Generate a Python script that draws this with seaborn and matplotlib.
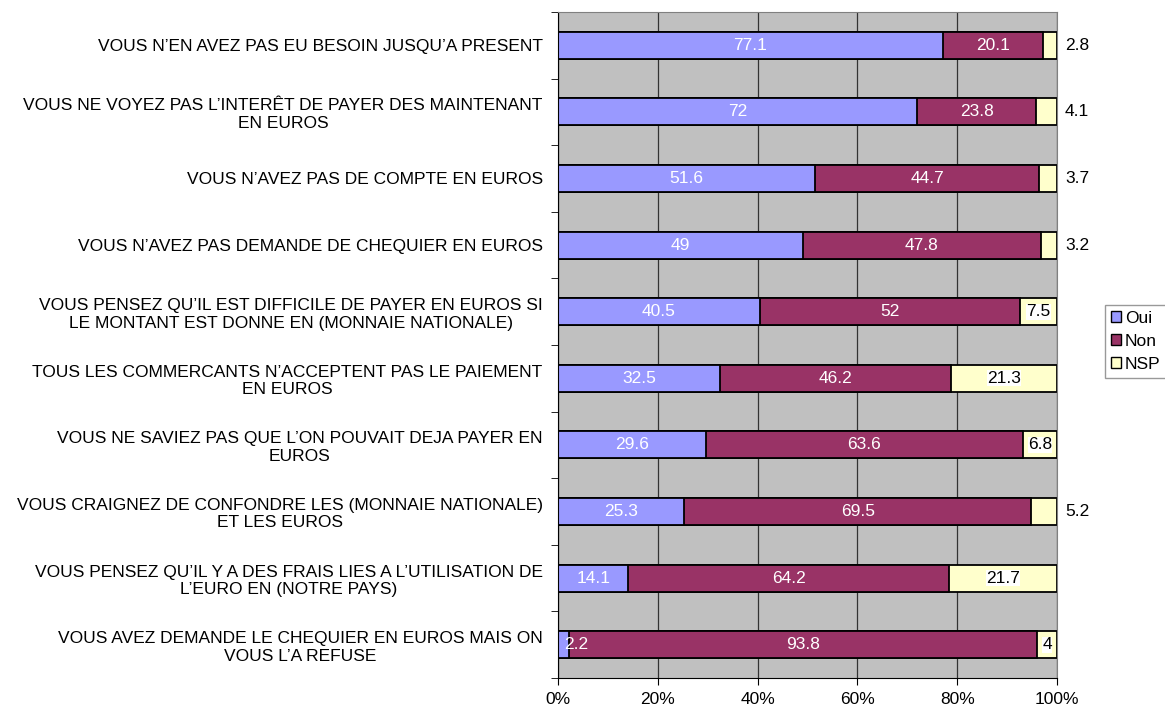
import numpy as np
import pandas as pd
import seaborn as sns
import matplotlib.pyplot as plt
from matplotlib.patches import Patch

questions = [
    "VOUS N'EN AVEZ PAS EU BESOIN JUSQU'A PRESENT",
    "VOUS NE VOYEZ PAS L'INTERÊT DE PAYER DES MAINTENANT\nEN EUROS",
    "VOUS N'AVEZ PAS DE COMPTE EN EUROS",
    "VOUS N'AVEZ PAS DEMANDE DE CHEQUIER EN EUROS",
    "VOUS PENSEZ QU'IL EST DIFFICILE DE PAYER EN EUROS SI\nLE MONTANT EST DONNE EN (MONNAIE NATIONALE)",
    "TOUS LES COMMERCANTS N'ACCEPTENT PAS LE PAIEMENT\nEN EUROS",
    "VOUS NE SAVIEZ PAS QUE L'ON POUVAIT DEJA PAYER EN\nEUROS",
    "VOUS CRAIGNEZ DE CONFONDRE LES (MONNAIE NATIONALE)\nET LES EUROS",
    "VOUS PENSEZ QU'IL Y A DES FRAIS LIES A L'UTILISATION DE\nL'EURO EN (NOTRE PAYS)",
    "VOUS AVEZ DEMANDE LE CHEQUIER EN EUROS MAIS ON\nVOUS L'A REFUSE",
]
questions = [q.replace("'", "\u2019") for q in questions]
oui = [77.1, 72, 51.6, 49, 40.5, 32.5, 29.6, 25.3, 14.1, 2.2]
non = [20.1, 23.8, 44.7, 47.8, 52, 46.2, 63.6, 69.5, 64.2, 93.8]
nsp = [2.8, 4.1, 3.7, 3.2, 7.5, 21.3, 6.8, 5.2, 21.7, 4]
# which NSP labels sit outside the bar (right of 100%)
nsp_outside = [True, True, True, True, False, False, False, True, False, False]

c_oui, c_non, c_nsp = "#9999FF", "#993366", "#FFFFCC"
fs = 12.5

df = pd.DataFrame({"q": questions, "oui": oui, "non": non, "nsp": nsp})
df["s2"] = df["oui"] + df["non"]
df["s3"] = df["s2"] + df["nsp"]

sns.set_style("white")
plt.rcParams["font.family"] = ["Liberation Sans", "DejaVu Sans"]
plt.rcParams["text.color"] = "black"
plt.rcParams["xtick.color"] = "black"
plt.rcParams["ytick.color"] = "black"

fig = plt.figure(figsize=(11.65, 7.1), dpi=100)
ax = fig.add_axes([558 / 1165, 1 - 678 / 710, 499 / 1165, 666 / 710])
ax.set_facecolor("#C0C0C0")

w = 0.405
for col, c in [("s3", c_nsp), ("s2", c_non), ("oui", c_oui)]:
    sns.barplot(data=df, y="q", x=col, color=c, edgecolor="black", linewidth=1.3,
                width=w, ax=ax, orient="h", saturation=1)

ax.set_xlim(0, 100)
ax.set_ylim(len(questions) - 0.5, -0.5)
ax.set_xticks(np.arange(0, 101, 20))
ax.set_xticklabels([f"{v}%" for v in range(0, 101, 20)], fontsize=fs)
ax.xaxis.grid(True, color="#333333", linewidth=0.9)
ax.set_axisbelow(True)
ax.set_xlabel("")
ax.set_ylabel("")

ax.set_yticks(range(len(questions)))
ax.set_yticklabels(questions, fontsize=fs, multialignment="center")
ax.set_yticks(np.arange(-0.5, len(questions), 1), minor=True)
ax.tick_params(axis="y", which="major", length=0, pad=11, labelcolor="black")
ax.tick_params(axis="y", which="minor", length=5, color="black", left=True)
ax.tick_params(axis="x", which="major", length=5, color="black", bottom=True, pad=5,
               labelcolor="black")

for s in ["top", "right"]:
    ax.spines[s].set_color("#808080")
for s in ["left", "bottom"]:
    ax.spines[s].set_color("black")

for i in range(len(questions)):
    ax.text(oui[i] / 2 if oui[i] > 5 else oui[i] + 1.4, i, f"{oui[i]:g}",
            ha="center", va="center", color="white", fontsize=fs)
    ax.text(oui[i] + non[i] / 2, i, f"{non[i]:g}", ha="center", va="center",
            color="white", fontsize=fs)
    if nsp_outside[i]:
        ax.text(101.6, i, f"{nsp[i]:g}", ha="left", va="center", color="black",
                fontsize=fs, clip_on=False)
    else:
        ax.text(oui[i] + non[i] + nsp[i] / 2, i, f"{nsp[i]:g}", ha="center",
                va="center", color="black", fontsize=fs,
                bbox=dict(facecolor="white", edgecolor="none", pad=0.3))

handles = [Patch(facecolor=c, edgecolor="black", label=l)
           for c, l in [(c_oui, "Oui"), (c_non, "Non"), (c_nsp, "NSP")]]
leg = fig.legend(handles=handles, loc="upper left", bbox_to_anchor=(1105 / 1165, 1 - 305 / 710),
                 fontsize=fs, frameon=True, fancybox=False, handlelength=0.6,
                 handleheight=0.6, handletextpad=0.2, borderpad=0.35, labelspacing=0.45,
                 borderaxespad=0)
leg.get_frame().set_edgecolor("#808080")
leg.get_frame().set_linewidth(1)

fig.savefig("out.png", dpi=100)
